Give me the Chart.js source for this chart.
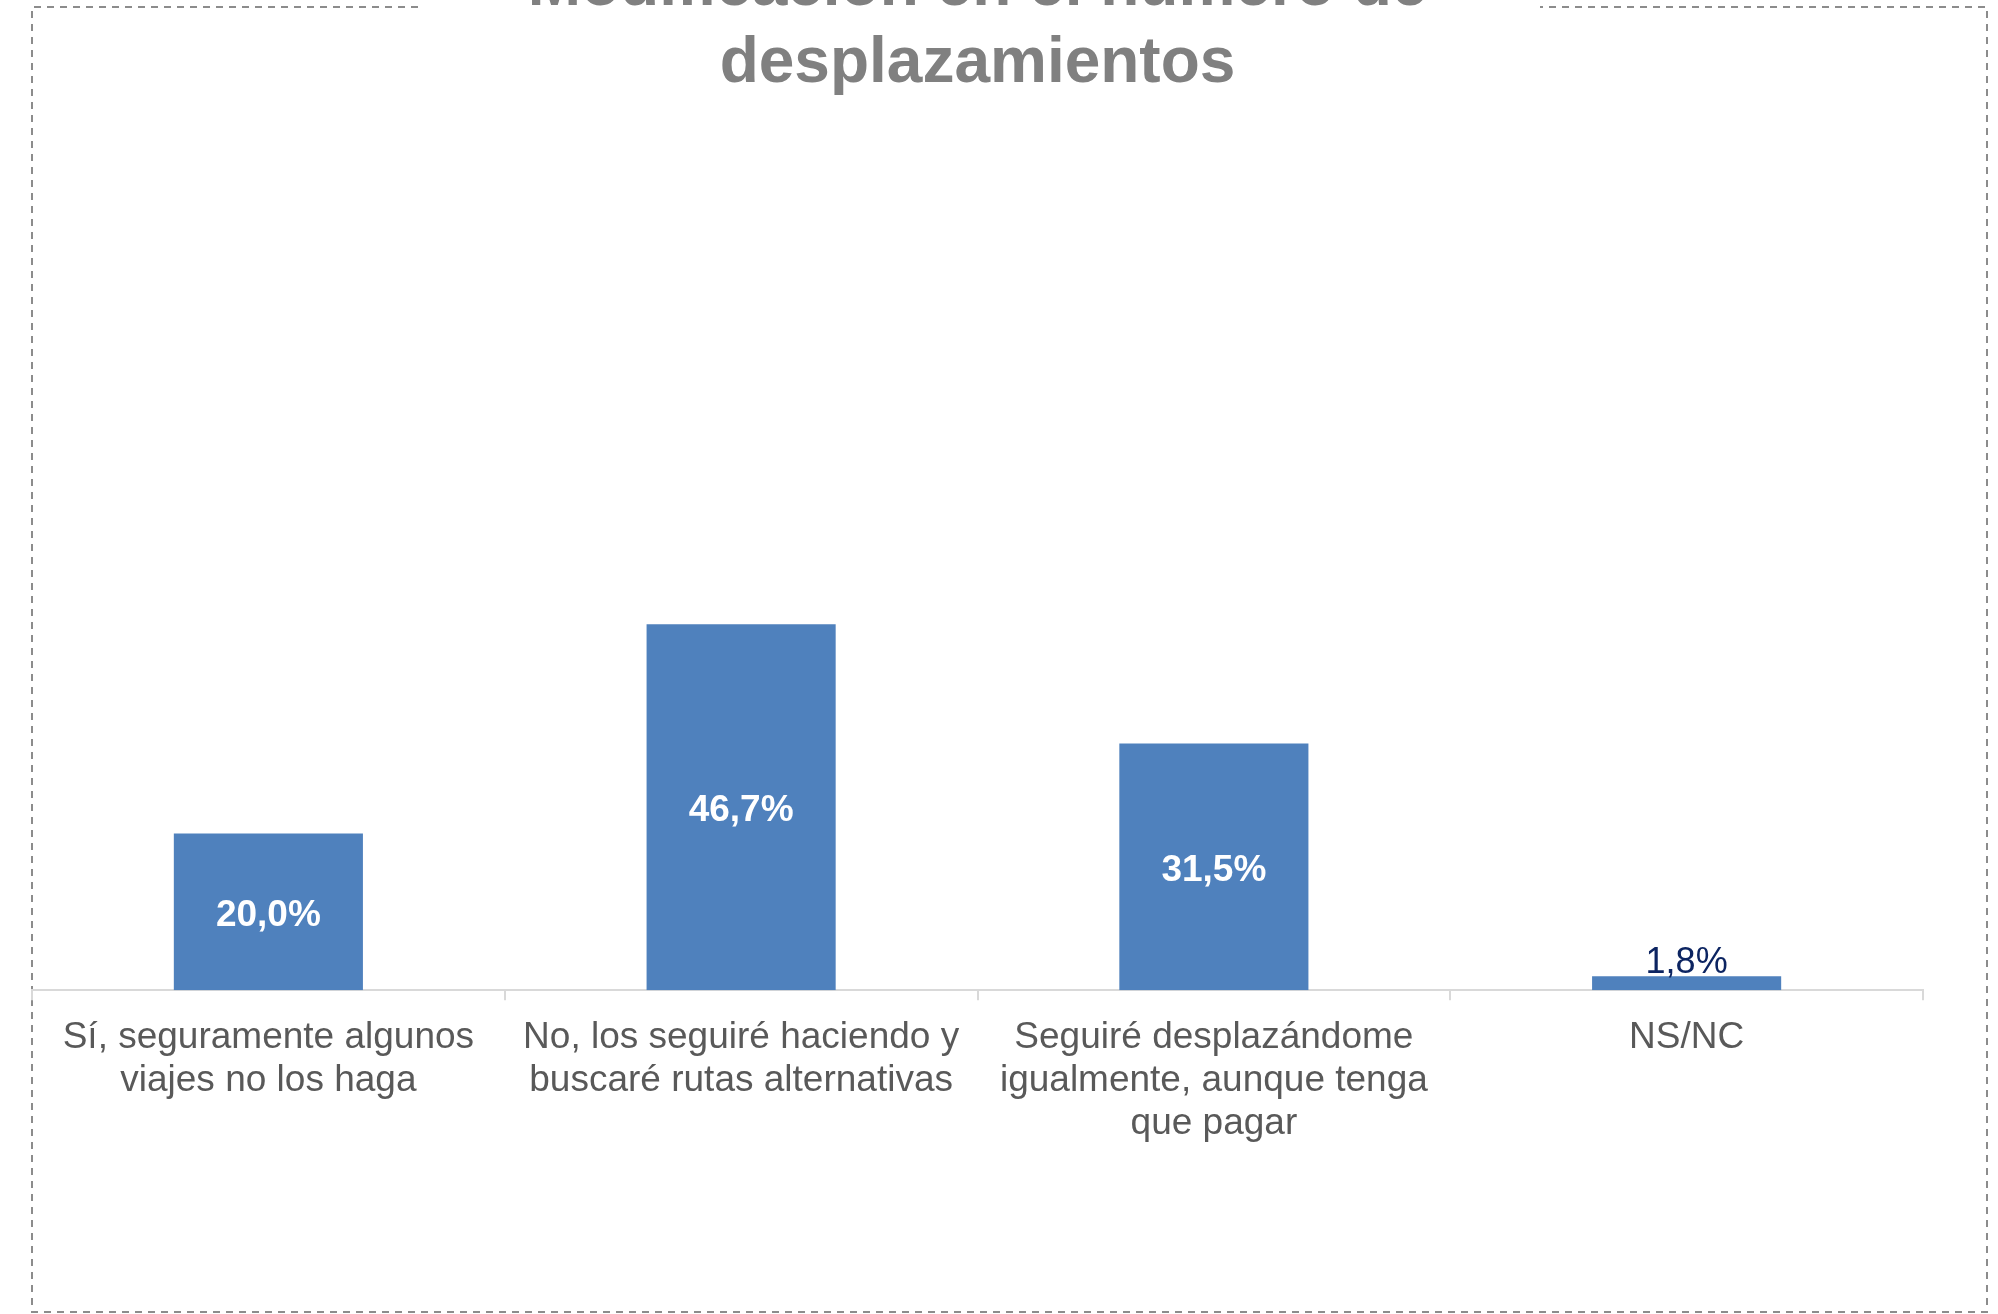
<!DOCTYPE html>
<html lang="es">
<head>
<meta charset="utf-8">
<title>Modificación en el número de desplazamientos</title>
<script src="https://cdn.jsdelivr.net/npm/chart.js@4.4.1/dist/chart.umd.min.js"></script>
<style>
  html, body { margin: 0; padding: 0; background: #fff; }
  #chart { display: block; }
</style>
</head>
<body>
<canvas id="chart" width="1998" height="1314"></canvas>
<script>
// data
const titleLines = ['Modificación en el número de', 'desplazamientos'];
const categories = [
  ['Sí, seguramente algunos', 'viajes no los haga'],
  ['No, los seguiré haciendo y', 'buscaré rutas alternativas'],
  ['Seguiré desplazándome', 'igualmente, aunque tenga', 'que pagar'],
  'NS/NC'
];
const values = [20.0, 46.7, 31.5, 1.8];

const FONT = "'Liberation Sans', Arial, Helvetica, sans-serif";

function fmt(v){
  return v.toFixed(1).replace('.', ',') + '%';
}

// dashed frame round the chart, with a gap where the title sits
const framePlugin = {
  id: 'frame',
  beforeDraw(chart){
    const ctx = chart.ctx;
    ctx.save();
    ctx.strokeStyle = '#8c8c8c';
    ctx.lineWidth = 2;
    ctx.setLineDash([7, 6]);
    const l = 32, r = 1987, t = 7, b = 1312;
    ctx.beginPath();
    ctx.moveTo(418, t); ctx.lineTo(l, t); ctx.lineTo(l, b);
    ctx.lineTo(r, b); ctx.lineTo(r, t); ctx.lineTo(1540, t);
    ctx.stroke();
    ctx.restore();
  }
};

// value labels: inside the bar (white bold) or above it when the bar is too short
const valueLabels = {
  id: 'valueLabels',
  afterDatasetsDraw(chart){
    const ctx = chart.ctx;
    const meta = chart.getDatasetMeta(0);
    ctx.save();
    ctx.textAlign = 'center';
    ctx.textBaseline = 'middle';
    meta.data.forEach((bar, i) => {
      const v = values[i];
      const h = bar.base - bar.y;
      if (h > 60) {
        ctx.font = 'bold 37px ' + FONT;
        ctx.fillStyle = '#ffffff';
        ctx.fillText(fmt(v), bar.x, (bar.y + bar.base) / 2 + 4);
      } else {
        ctx.font = '36px ' + FONT;
        ctx.fillStyle = '#0c2461';
        ctx.fillText(fmt(v), bar.x, bar.y - 13);
      }
    });
    ctx.restore();
  }
};

new Chart(document.getElementById('chart'), {
  type: 'bar',
  data: {
    labels: categories,
    datasets: [{
      data: values,
      backgroundColor: '#4f81bd',
      borderWidth: 0,
      barPercentage: 1,
      categoryPercentage: 0.4
    }]
  },
  options: {
    responsive: false,
    devicePixelRatio: 1,
    animation: false,
    layout: { padding: { left: 32, right: 75, top: 0, bottom: 153 } },
    plugins: {
      legend: { display: false },
      tooltip: { enabled: false },
      title: {
        display: true,
        text: titleLines,
        color: '#808080',
        font: { family: FONT, size: 64, weight: 'bold', lineHeight: 1.2 },
        padding: { top: -51, bottom: 104 }
      }
    },
    scales: {
      x: {
        grid: {
          display: true,
          offset: true,
          drawOnChartArea: false,
          drawTicks: true,
          tickLength: 10,
          color: '#d9d9d9',
          lineWidth: 2
        },
        border: { display: true, color: '#d9d9d9', width: 2 },
        ticks: {
          color: '#595959',
          font: { family: FONT, size: 37, lineHeight: 1.16 },
          padding: 16,
          maxRotation: 0,
          minRotation: 0,
          autoSkip: false
        }
      },
      y: {
        display: false,
        min: 0,
        max: 100
      }
    }
  },
  plugins: [framePlugin, valueLabels]
});
</script>
</body>
</html>
